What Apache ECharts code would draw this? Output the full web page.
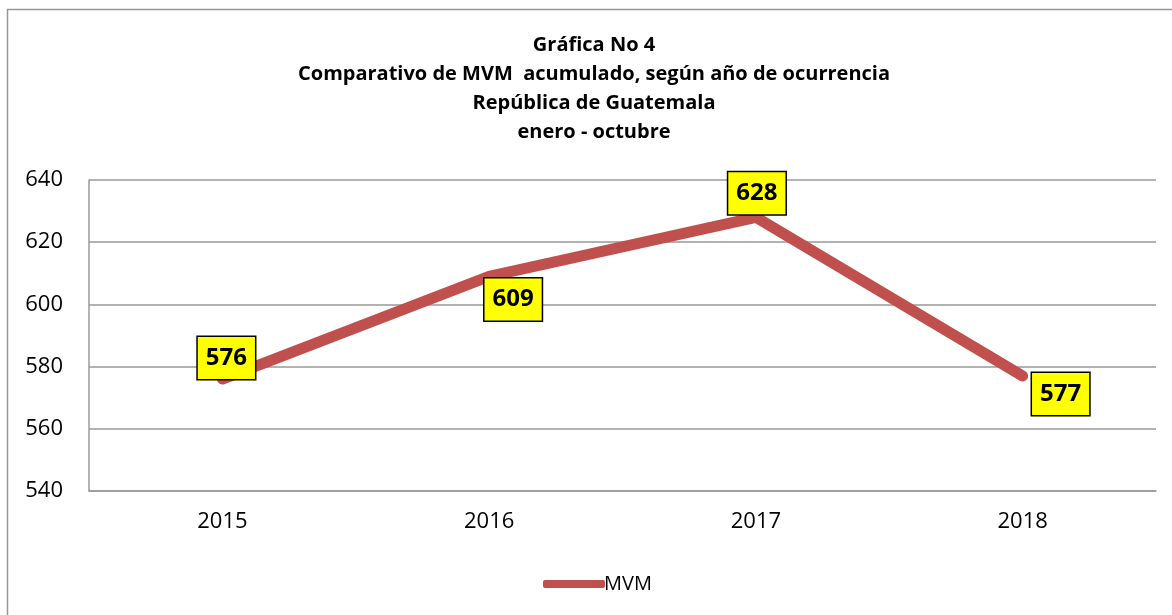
<!DOCTYPE html>
<html>
<head>
<meta charset="utf-8">
<script src="https://cdn.jsdelivr.net/npm/echarts@6/dist/echarts.min.js"></script>
<style>
  html, body { margin: 0; padding: 0; background: #fff; }
  #main { width: 1172px; height: 615px; }
</style>
</head>
<body>
<div id="main"></div>
<script>
// datos
var years = ['2015', '2016', '2017', '2018']
var mvm = [576, 609, 628, 577]
// desplazamiento de cada etiqueta respecto al punto
var labelOffsets = [[4, -21], [24, 23], [1, -24], [38, 18]]
var titleLines = [
  'Gráfica No 4',
  'Comparativo de MVM  acumulado, según año de ocurrencia',
  'República de Guatemala',
  'enero - octubre'
]

var font = '"Open Sans", "Noto Sans", sans-serif'
var gridColor = '#999999'
var lineColor = '#C0504D'

var chart = echarts.init(document.getElementById('main'))

var seriesData = mvm.map(function (v, i) {
  return {
    value: v,
    label: { offset: labelOffsets[i] }
  }
})

var option = {
  backgroundColor: '#fff',
  animation: false,
  textStyle: { fontFamily: font },
  graphic: [
    {
      type: 'rect',
      shape: { x: 7.5, y: 9.5, width: 1200, height: 700 },
      style: { fill: 'none', stroke: '#969696', lineWidth: 1.5 },
      z: -10
    }
  ],
  title: {
    text: titleLines.join('\n'),
    left: 594,
    top: 31,
    padding: 0,
    textAlign: 'center',
    textStyle: {
      fontFamily: font,
      fontSize: 20,
      fontWeight: 'bold',
      lineHeight: 29,
      color: '#000'
    }
  },
  grid: {
    left: 89,
    right: 16,
    top: 180,
    bottom: 124,
    containLabel: false
  },
  legend: {
    data: ['MVM'],
    left: 538,
    top: 569,
    icon: 'roundRect',
    itemWidth: 62,
    itemHeight: 8,
    itemGap: 10,
    textStyle: { fontFamily: font, fontSize: 20, color: '#000', padding: [0, 0, 0, -6] }
  },
  xAxis: {
    type: 'category',
    data: years,
    boundaryGap: true,
    axisTick: { show: false },
    axisLine: { lineStyle: { color: gridColor, width: 1.5 } },
    axisLabel: { color: '#000', fontSize: 22, fontFamily: font, margin: 20 }
  },
  yAxis: {
    type: 'value',
    min: 540,
    max: 640,
    interval: 20,
    axisTick: { show: false },
    axisLine: { show: true, lineStyle: { color: gridColor, width: 1.5 } },
    splitLine: { lineStyle: { color: gridColor, width: 1.5 } },
    axisLabel: { color: '#000', fontSize: 22, fontFamily: font, margin: 26 }
  },
  series: [
    {
      name: 'MVM',
      type: 'line',
      data: seriesData,
      symbol: 'circle',
      symbolSize: 1,
      showSymbol: true,
      itemStyle: { color: lineColor },
      lineStyle: { color: lineColor, width: 11, cap: 'round', join: 'round' },
      label: {
        show: true,
        position: 'inside',
        align: 'center',
        verticalAlign: 'middle',
        fontFamily: font,
        fontSize: 24,
        fontWeight: 'bold',
        lineHeight: 26,
        color: '#000',
        backgroundColor: '#FFFF00',
        borderColor: '#000',
        borderWidth: 1.5,
        padding: [8, 8, 8, 8]
      },
      emphasis: { disabled: true },
      z: 3
    }
  ]
}

chart.setOption(option)
</script>
</body>
</html>
